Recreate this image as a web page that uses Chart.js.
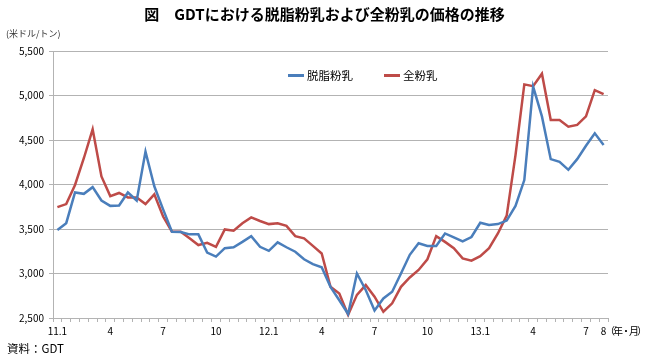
<!DOCTYPE html>
<html>
<head>
<meta charset="utf-8">
<script src="https://cdn.jsdelivr.net/npm/chart.js@4"></script>
<style>
  body { margin: 0; background: #fff; }
  #wrap { position: relative; width: 649px; height: 358px; font-family: "Noto Sans CJK JP", sans-serif; color: #000; }
  #wrap canvas { position: absolute; left: 0; top: 0; }
  .txt { position: absolute; white-space: nowrap; line-height: 1; }
  .title { left: 0; width: 649px; top: 6px; text-align: center; font-size: 15px; font-weight: bold; }
  .unit { left: 6px; top: 29px; font-size: 9px; color: #333; }
  .src { left: 7px; top: 343px; font-size: 11.5px; }
  .ym { left: 605px; top: 326px; font-size: 10px; letter-spacing: -2px; }
  .leg { top: 70px; font-size: 11.5px; }
  .leg i { display: inline-block; width: 16px; height: 3px; vertical-align: middle; margin-right: 3px; position: relative; top: -1px; }
</style>
</head>
<body>
<div id="wrap">
  <canvas id="chart" width="649" height="358"></canvas>
  <div class="txt title">図　GDTにおける脱脂粉乳および全粉乳の価格の推移</div>
  <div class="txt unit">(米ドル/トン)</div>
  <div class="txt leg" style="left:288px"><i style="background:#4A7EBB"></i>脱脂粉乳</div>
  <div class="txt leg" style="left:384px"><i style="background:#BE4B48"></i>全粉乳</div>
  <div class="txt ym">（年・月）</div>
  <div class="txt src">資料：GDT</div>
</div>
<script>
// GDT auctions, twice a month, 2011.1 - 2013.8
const tickLabels = [
  '11.1', '', '', '', '', '', '4', '', '', '', '', '', '7', '', '', '', '', '', '10', '', '', '', '', '',
  '12.1', '', '', '', '', '', '4', '', '', '', '', '', '7', '', '', '', '', '', '10', '', '', '', '', '',
  '13.1', '', '', '', '', '', '4', '', '', '', '', '', '7', '', '8'
];

const skimMilk = [
  3490, 3565, 3910, 3895, 3970, 3820, 3760, 3765, 3910, 3820, 4370, 3980, 3720, 3470, 3465, 3440,
  3440, 3235, 3190, 3285, 3295, 3355, 3420, 3300, 3255, 3350, 3295, 3245, 3160, 3105, 3070, 2850,
  2700, 2545, 3000, 2815, 2585, 2720, 2795, 3000, 3210, 3340, 3310, 3310, 3450, 3405, 3360, 3410,
  3570, 3545, 3555, 3595, 3760, 4050, 5100, 4765, 4285, 4255, 4165, 4285, 4435, 4575, 4445
];

const wholeMilk = [
  3745, 3780, 3995, 4295, 4620, 4090, 3870, 3905, 3855, 3855, 3780, 3890, 3640, 3470, 3470, 3395,
  3320, 3345, 3300, 3495, 3480, 3565, 3630, 3590, 3555, 3565, 3535, 3420, 3395, 3310, 3225, 2850,
  2775, 2535, 2760, 2870, 2740, 2570, 2665, 2850, 2955, 3040, 3160, 3420, 3355, 3285, 3170, 3145,
  3195, 3285, 3450, 3650, 4330, 5125, 5105, 5245, 4725, 4725, 4650, 4670, 4765, 5060, 5015
];

const gridColor = '#b3b3b3';
const tickFont = { family: 'Noto Sans CJK JP', size: 10 };

const ctx = document.getElementById('chart');

new Chart(ctx, {
  type: 'line',
  data: {
    labels: tickLabels,
    datasets: [{
      label: '脱脂粉乳',
      data: skimMilk,
      borderColor: '#4A7EBB',
      borderWidth: 2.5,
      pointRadius: 0,
      tension: 0,
    }, {
      label: '全粉乳',
      data: wholeMilk,
      borderColor: '#BE4B48',
      borderWidth: 2.5,
      pointRadius: 0,
      tension: 0,
    }]
  },
  options: {
    responsive: false,
    animation: false,
    layout: { padding: { left: 0, top: 51, right: 41, bottom: 0 } },
    plugins: { legend: { display: false }, tooltip: { enabled: false } },
    scales: {
      x: {
        offset: true,
        grid: { offset: true, drawOnChartArea: false, drawTicks: true, tickLength: 4, color: gridColor },
        border: { color: gridColor },
        ticks: {
          autoSkip: false, maxRotation: 0, padding: 3, color: '#000', font: tickFont,
          callback: (v, i) => tickLabels[i]
        },
        afterFit: (s) => { s.height = 40; }
      },
      y: {
        min: 2500,
        max: 5500,
        grid: { color: gridColor, tickLength: 4 },
        border: { color: gridColor },
        ticks: {
          stepSize: 500, padding: 5, color: '#000', font: tickFont,
          callback: (v) => v.toLocaleString('en-US')
        },
        afterFit: (s) => { s.width = 53; }
      }
    }
  }
});
</script>
</body>
</html>
